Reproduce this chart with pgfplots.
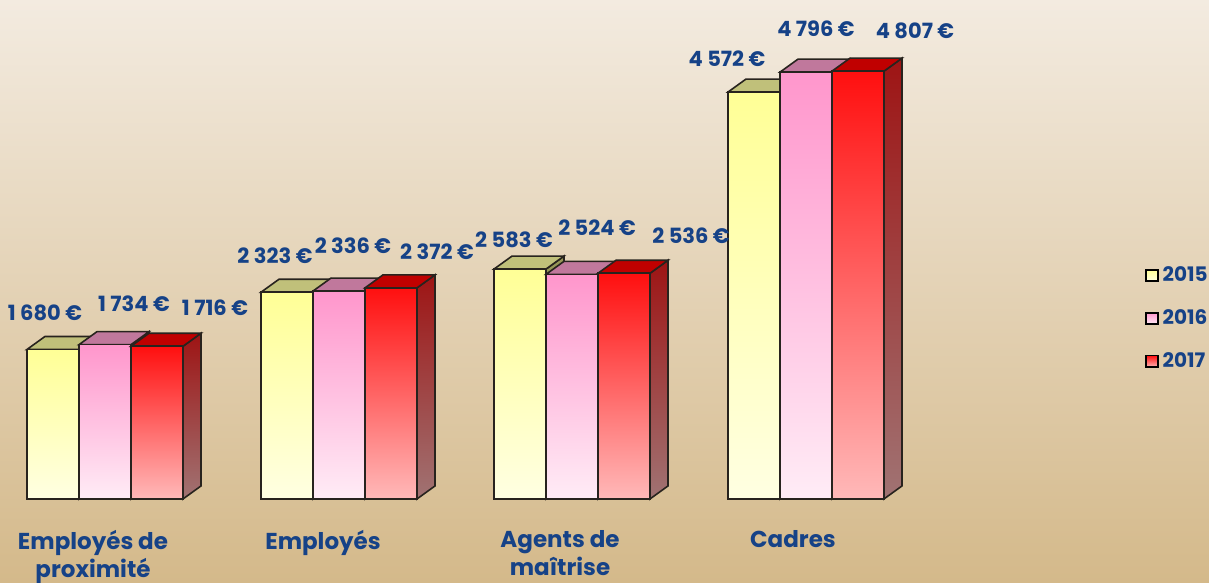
\documentclass[border=0pt]{standalone}
\usepackage{pgfplots}
\pgfplotsset{compat=1.18}
\usepackage{pgfplotstable}
\usepackage{fontspec}
\setmainfont{Poppins}

\definecolor{txt}{RGB}{22,66,135}
\definecolor{edge}{RGB}{40,35,30}
\definecolor{bgtop}{RGB}{243,235,224}
\definecolor{bgbot}{RGB}{212,185,138}
\definecolor{ytop}{RGB}{255,255,150}
\definecolor{ybot}{RGB}{255,255,226}
\definecolor{yface}{RGB}{192,192,122}
\definecolor{yside1}{RGB}{150,150,85}
\definecolor{yside2}{RGB}{160,160,120}
\definecolor{ptop}{RGB}{255,150,204}
\definecolor{pbot}{RGB}{255,236,246}
\definecolor{pface}{RGB}{192,120,156}
\definecolor{pside1}{RGB}{160,80,120}
\definecolor{pside2}{RGB}{165,130,145}
\definecolor{rtop}{RGB}{255,15,15}
\definecolor{rbot}{RGB}{255,185,185}
\definecolor{rface}{RGB}{192,0,0}
\definecolor{rside1}{RGB}{158,20,20}
\definecolor{rside2}{RGB}{160,115,115}

% x (px), value, label shift x (pt), label shift y (pt)
\pgfplotstableread{
x v dx dy
53 1680 -4 18.5
287 2323 -6 18.5
520 2583 -3 14.5
754 4572 -13.5 16.75
}\tabY
\pgfplotstableread{
x v dx dy
105 1734 14.5 20.5
339 2336 7 22.5
572 2524 12.5 23.5
806 4796 5 21.5
}\tabP
\pgfplotstableread{
x v dx dy
157 1716 29 19.5
391 2372 23 18
624 2536 33.5 19
858 4807 28.5 20.25
}\tabR

% 3D bar drawn at the data point (x, value): side, top and front faces
\newcommand\defbarmark[6]{%
\pgfdeclareplotmark{#1}{%
  \pgfmathsetlengthmacro\hh{\val*0.0445pt}%
  \draw[line width=0.8pt, draw=edge, top color=#3, bottom color=#4]
     (13pt,0pt) -- (22pt,6.5pt) -- (22pt,6.5pt-\hh) -- (13pt,-\hh) -- cycle;
  \draw[line width=0.8pt, draw=edge, fill=#2]
     (-13pt,0pt) -- (-4pt,6.5pt) -- (22pt,6.5pt) -- (13pt,0pt) -- cycle;
  \draw[line width=0.8pt, draw=edge, top color=#5, bottom color=#6]
     (-13pt,-\hh) rectangle (13pt,0pt);
}}
\defbarmark{barY}{yface}{yside1}{yside2}{ytop}{ybot}
\defbarmark{barP}{pface}{pside1}{pside2}{ptop}{pbot}
\defbarmark{barR}{rface}{rside1}{rside2}{rtop}{rbot}

\pgfplotsset{
  deco/.style={scatter, only marks, mark=#1, forget plot,
    scatter/use mapped color={draw=edge},
    visualization depends on={\thisrow{v} \as \val}},
  front/.style n args={2}{ybar, bar width=26pt, bar shift=0pt,
    draw=none, fill=none,
    legend image code/.code={\draw[line width=0.9pt, draw=black, top color=#1, bottom color=#2] (0pt,-2.9pt) rectangle (5.8pt,2.9pt);},
    nodes near coords={\pgfmathprintnumber{\pgfplotspointmeta}~€},
    point meta=y,
    visualization depends on={\thisrow{dx} \as \ldx},
    visualization depends on={\thisrow{dy} \as \ldy},
    every node near coord/.append style={anchor=center, xshift=\ldx pt, yshift=\ldy pt,
      font=\fontsize{10.5}{12}\selectfont\bfseries, text=txt, inner sep=0pt}},
}

\begin{document}
\begin{tikzpicture}
\begin{axis}[
  x=0.5pt, y=0.0445pt,
  xmin=0, xmax=1209, ymin=-944, ymax=5607,
  axis background/.style={top color=bgtop, bottom color=bgbot, draw=none},
  axis line style={draw=none},
  ytick=\empty,
  xtick={93,323,560,793},
  xticklabels={{Employés de\\proximité},{Employés},{Agents de\\maîtrise},{Cadres}},
  xticklabel style={align=center, anchor=north, yshift=30pt,
     font=\fontsize{11.5}{14}\selectfont\bfseries, text=txt},
  major tick length=0pt,
  clip=false,
  /pgf/number format/.cd, fixed, precision=0, 1000 sep={\ }, assume math mode=true,
  /pgfplots/.cd,
  legend style={at={(rel axis cs:1,0.4537)}, anchor=east, xshift=1.5pt, draw=none, fill=none,
     font=\fontsize{10}{11}\selectfont\bfseries, text=txt, row sep=8.5pt, inner sep=0pt},
  legend cell align=left,
]
\addplot[deco=barY] table[x=x, y=v] \tabY;
\addplot[front={ytop}{ybot}] table[x=x, y=v] \tabY;
\addlegendentry{2015}
\addplot[deco=barP] table[x=x, y=v] \tabP;
\addplot[front={ptop}{pbot}] table[x=x, y=v] \tabP;
\addlegendentry{2016}
\addplot[deco=barR] table[x=x, y=v] \tabR;
\addplot[front={rtop}{rbot}] table[x=x, y=v] \tabR;
\addlegendentry{2017}
\end{axis}
\pgfresetboundingbox
\path[use as bounding box] (0,0) rectangle (604.5pt,291.5pt);
\end{tikzpicture}
\end{document}
